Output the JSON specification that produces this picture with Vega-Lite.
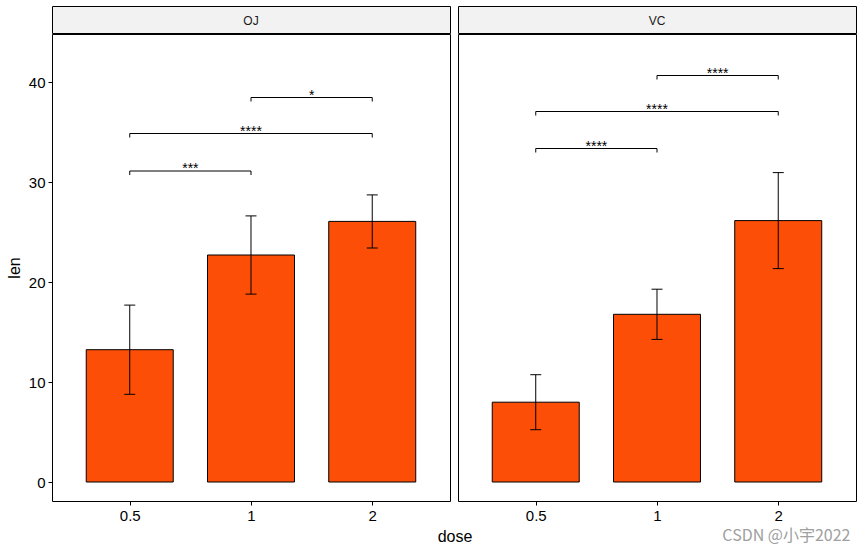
{
  "$schema": "https://vega.github.io/schema/vega-lite/v6.json",
  "padding": {"left": 5, "top": 5, "right": 5, "bottom": 2},
  "background": "white",
  "datasets": {
    "bars": [
      {"supp": "OJ", "dose": 0.5, "len": 13.23, "lo": 8.77, "hi": 17.69},
      {"supp": "OJ", "dose": 1, "len": 22.70, "lo": 18.79, "hi": 26.61},
      {"supp": "OJ", "dose": 2, "len": 26.06, "lo": 23.40, "hi": 28.71},
      {"supp": "VC", "dose": 0.5, "len": 7.98, "lo": 5.23, "hi": 10.73},
      {"supp": "VC", "dose": 1, "len": 16.77, "lo": 14.26, "hi": 19.28},
      {"supp": "VC", "dose": 2, "len": 26.14, "lo": 21.34, "hi": 30.94}
    ],
    "brackets": [
      {"supp": "OJ", "group1": 0.5, "group2": 1, "y": 31.1, "label": "***"},
      {"supp": "OJ", "group1": 0.5, "group2": 2, "y": 34.85, "label": "****"},
      {"supp": "OJ", "group1": 1, "group2": 2, "y": 38.45, "label": "*"},
      {"supp": "VC", "group1": 0.5, "group2": 1, "y": 33.35, "label": "****"},
      {"supp": "VC", "group1": 0.5, "group2": 2, "y": 37.05, "label": "****"},
      {"supp": "VC", "group1": 1, "group2": 2, "y": 40.65, "label": "****"}
    ]
  },
  "config": {
    "font": "Liberation Sans",
    "view": {"stroke": "black", "strokeWidth": 1},
    "axis": {
      "domain": false,
      "grid": false,
      "tickColor": "black",
      "tickSize": 4,
      "labelColor": "black",
      "labelFontSize": 15,
      "labelFont": "Liberation Sans",
      "labelPadding": 3,
      "titleFont": "Liberation Sans",
      "titleFontSize": 16,
      "titleFontWeight": "normal",
      "titleColor": "black"
    }
  },
  "spacing": -3,
  "vconcat": [
    {
      "spacing": 8,
      "bounds": "flush",
      "hconcat": [
        {
          "width": 398,
          "height": 27,
          "view": {"fill": "#F2F2F2", "stroke": "black"},
          "data": {"values": [{"supp": "OJ"}]},
          "mark": {"type": "text", "fontSize": 12, "color": "#1A1A1A", "baseline": "middle", "dy": 1},
          "encoding": {"text": {"field": "supp"}}
        },
        {
          "width": 398,
          "height": 27,
          "view": {"fill": "#F2F2F2", "stroke": "black"},
          "data": {"values": [{"supp": "VC"}]},
          "mark": {"type": "text", "fontSize": 12, "color": "#1A1A1A", "baseline": "middle", "dy": 1},
          "encoding": {"text": {"field": "supp"}}
        }
      ]
    },
    {
      "spacing": 8,
      "bounds": "flush",
      "hconcat": [
        {
          "width": 398,
          "height": 467,
          "layer": [
            {
              "data": {"name": "bars"},
              "transform": [{"filter": "datum.supp === 'OJ'"}],
              "layer": [
                {
                  "mark": {"type": "bar", "orient": "vertical", "size": 87, "fill": "#FC4E07", "stroke": "black", "strokeWidth": 1},
                  "encoding": {
                    "x": {"field": "dose", "type": "quantitative",
                      "scale": {"type": "log", "base": 2, "domain": [0.32988, 3.03143], "nice": false},
                      "axis": {"values": [0.5, 1, 2], "format": "~g", "title": "dose", "titleX": 402.5, "titlePadding": 5}},
                    "y": {"field": "len", "type": "quantitative", "stack": null,
                      "scale": {"domain": [-1.9, 44.8], "nice": false, "zero": false},
                      "axis": {"values": [0, 10, 20, 30, 40], "title": "len", "titlePadding": 6}}
                  }
                },
                {
                  "mark": {"type": "rule", "color": "black", "strokeWidth": 1},
                  "encoding": {
                    "x": {"field": "dose", "type": "quantitative"},
                    "y": {"field": "lo", "type": "quantitative"},
                    "y2": {"field": "hi"}
                  }
                },
                {
                  "mark": {"type": "tick", "orient": "horizontal", "size": 11, "thickness": 1, "color": "black", "opacity": 1},
                  "encoding": {
                    "x": {"field": "dose", "type": "quantitative"},
                    "y": {"field": "hi", "type": "quantitative"}
                  }
                },
                {
                  "mark": {"type": "tick", "orient": "horizontal", "size": 11, "thickness": 1, "color": "black", "opacity": 1},
                  "encoding": {
                    "x": {"field": "dose", "type": "quantitative"},
                    "y": {"field": "lo", "type": "quantitative"}
                  }
                }
              ]
            },
            {
              "data": {"name": "brackets"},
              "transform": [
                {"filter": "datum.supp === 'OJ'"},
                {"calculate": "sqrt(datum.group1 * datum.group2)", "as": "mid"}
              ],
              "layer": [
                {
                  "mark": {"type": "rule", "color": "black", "strokeWidth": 1},
                  "encoding": {
                    "x": {"field": "group1", "type": "quantitative"},
                    "x2": {"field": "group2"},
                    "y": {"field": "y", "type": "quantitative"}
                  }
                },
                {
                  "mark": {"type": "tick", "orient": "vertical", "size": 4, "thickness": 1, "yOffset": 2, "color": "black", "opacity": 1},
                  "encoding": {
                    "x": {"field": "group1", "type": "quantitative"},
                    "y": {"field": "y", "type": "quantitative"}
                  }
                },
                {
                  "mark": {"type": "tick", "orient": "vertical", "size": 4, "thickness": 1, "yOffset": 2, "color": "black", "opacity": 1},
                  "encoding": {
                    "x": {"field": "group2", "type": "quantitative"},
                    "y": {"field": "y", "type": "quantitative"}
                  }
                },
                {
                  "mark": {"type": "text", "fontSize": 14, "color": "black", "baseline": "alphabetic", "dy": 2},
                  "encoding": {
                    "x": {"field": "mid", "type": "quantitative"},
                    "y": {"field": "y", "type": "quantitative"},
                    "text": {"field": "label"}
                  }
                }
              ]
            }
          ]
        },
        {
          "width": 398,
          "height": 467,
          "layer": [
            {
              "data": {"name": "bars"},
              "transform": [{"filter": "datum.supp === 'VC'"}],
              "layer": [
                {
                  "mark": {"type": "bar", "orient": "vertical", "size": 87, "fill": "#FC4E07", "stroke": "black", "strokeWidth": 1},
                  "encoding": {
                    "x": {"field": "dose", "type": "quantitative",
                      "scale": {"type": "log", "base": 2, "domain": [0.32988, 3.03143], "nice": false},
                      "axis": {"values": [0.5, 1, 2], "format": "~g", "title": "CSDN @小宇2022", "titleFont": "Noto Sans CJK SC", "titleFontSize": 16, "titleColor": "#A0A0A0", "titleAlign": "right", "titleX": 392, "titlePadding": 4}},
                    "y": {"field": "len", "type": "quantitative", "stack": null,
                      "scale": {"domain": [-1.9, 44.8], "nice": false, "zero": false},
                      "axis": null}
                  }
                },
                {
                  "mark": {"type": "rule", "color": "black", "strokeWidth": 1},
                  "encoding": {
                    "x": {"field": "dose", "type": "quantitative"},
                    "y": {"field": "lo", "type": "quantitative"},
                    "y2": {"field": "hi"}
                  }
                },
                {
                  "mark": {"type": "tick", "orient": "horizontal", "size": 11, "thickness": 1, "color": "black", "opacity": 1},
                  "encoding": {
                    "x": {"field": "dose", "type": "quantitative"},
                    "y": {"field": "hi", "type": "quantitative"}
                  }
                },
                {
                  "mark": {"type": "tick", "orient": "horizontal", "size": 11, "thickness": 1, "color": "black", "opacity": 1},
                  "encoding": {
                    "x": {"field": "dose", "type": "quantitative"},
                    "y": {"field": "lo", "type": "quantitative"}
                  }
                }
              ]
            },
            {
              "data": {"name": "brackets"},
              "transform": [
                {"filter": "datum.supp === 'VC'"},
                {"calculate": "sqrt(datum.group1 * datum.group2)", "as": "mid"}
              ],
              "layer": [
                {
                  "mark": {"type": "rule", "color": "black", "strokeWidth": 1},
                  "encoding": {
                    "x": {"field": "group1", "type": "quantitative"},
                    "x2": {"field": "group2"},
                    "y": {"field": "y", "type": "quantitative"}
                  }
                },
                {
                  "mark": {"type": "tick", "orient": "vertical", "size": 4, "thickness": 1, "yOffset": 2, "color": "black", "opacity": 1},
                  "encoding": {
                    "x": {"field": "group1", "type": "quantitative"},
                    "y": {"field": "y", "type": "quantitative"}
                  }
                },
                {
                  "mark": {"type": "tick", "orient": "vertical", "size": 4, "thickness": 1, "yOffset": 2, "color": "black", "opacity": 1},
                  "encoding": {
                    "x": {"field": "group2", "type": "quantitative"},
                    "y": {"field": "y", "type": "quantitative"}
                  }
                },
                {
                  "mark": {"type": "text", "fontSize": 14, "color": "black", "baseline": "alphabetic", "dy": 2},
                  "encoding": {
                    "x": {"field": "mid", "type": "quantitative"},
                    "y": {"field": "y", "type": "quantitative"},
                    "text": {"field": "label"}
                  }
                }
              ]
            }
          ]
        }
      ]
    }
  ]
}
